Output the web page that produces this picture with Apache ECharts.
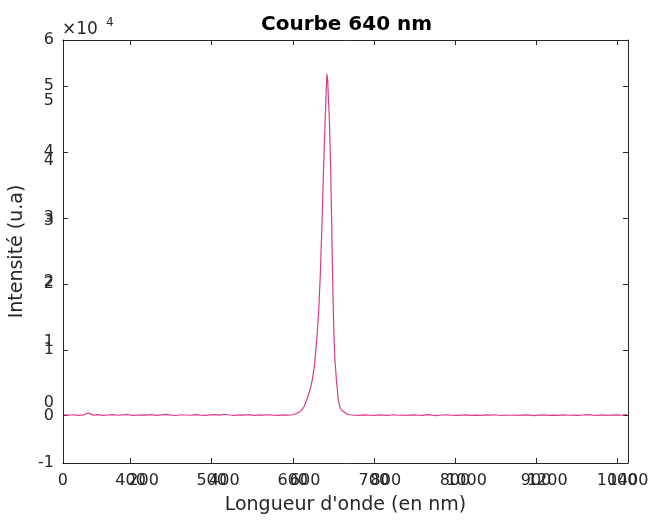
<!DOCTYPE html>
<html lang="fr">
<head>
<meta charset="UTF-8">
<title>Courbe 640 nm</title>
<style>
    * { margin: 0; padding: 0; }
    #chart { width: 655px; height: 523px; background: #fff; }
</style>
<script src="https://cdn.jsdelivr.net/npm/echarts@6/dist/echarts.min.js"></script>
</head>
<body>
<div id="chart"></div>
<script>
// spectre : ligne de base à gauche, pic, ligne de base à droite
var waveLeft = [318,324,330,336,342,348,354,360,366,372,378,384,390,396,402,408,414,420,426,432,438,444,450,456,462,468,474,480,486,492,498,504,510,516,522,528,534,540,546,552,558,564,570,576,582,588,594];
var intLeft = [120,80,150,60,130,420,90,170,40,110,160,70,130,190,50,100,140,80,170,60,120,200,90,30,150,110,70,180,100,50,130,160,80,220,110,60,140,90,170,50,120,80,150,100,60,130,90];

var wavePeak = [600,604,608,611,614,617,620,622,624,626,628,630,632,634,636,638,640,641,642,643,644,645,646,647,648,649,650,651,652,654,656,658,660,662,664,667,670];
var intPeak = [150,300,550,850,1400,2300,3400,4300,5400,6900,9200,12200,16000,21500,29000,37500,45000,48500,51800,51000,48000,45500,41000,36000,29000,22000,16000,11500,8500,5200,2600,1300,900,1200,500,250,150];

var waveRight = [676,682,688,694,700,706,712,718,724,730,736,742,748,754,760,766,772,778,784,790,796,802,808,814,820,826,832,838,844,850,856,862,868,874,880,886,892,898,904,910,916,922,928,934,940,946,952,958,964,970,976,982,988,994,1000,1006,1012];
var intRight = [100,60,140,80,30,120,90,50,150,70,110,40,130,90,60,160,80,20,110,140,70,50,100,130,60,90,40,120,80,150,30,100,70,110,50,140,90,20,80,120,60,100,40,130,70,90,50,110,160,80,60,120,40,90,140,70,200];

// graduations
var xTicksB = [400, 500, 600, 700, 800, 900, 1000];
var yTicksB = [0, 10000, 20000, 30000, 40000, 50000];

var xMinB = 316.4, xMaxB = 1013.5;
var yMinB = -7170, yMaxB = 56980;

var waves = waveLeft.concat(wavePeak, waveRight);
var ints = intLeft.concat(intPeak, intRight);
var points = [];
for (var i = 0; i < waves.length; i++) {
    points.push([waves[i], ints[i]]);
}

var axisColor = '#262626';
var labelStyle = { color: axisColor, fontSize: 16, fontFamily: 'DejaVu Sans' };
var plain = function (v) { return String(v); };
var frameLine = { show: true, onZero: false, lineStyle: { color: axisColor, width: 1 } };

var chart = echarts.init(document.getElementById('chart'));
var option = {
    animation: false,
    title: {
        text: 'Courbe 640 nm',
        left: 256,
        top: 10,
        textStyle: { color: '#000', fontSize: 20, fontWeight: 'bold', fontFamily: 'DejaVu Sans' }
    },
    grid: { left: 61, right: 27, top: 40, bottom: 60 },
    xAxis: [{
        type: 'value',
        min: 0, max: 1400, interval: 200,
        position: 'bottom',
        name: "Longueur d'onde (en nm)",
        nameLocation: 'middle',
        nameGap: 33,
        nameTextStyle: { color: axisColor, fontSize: 19, fontFamily: 'DejaVu Sans' },
        axisLine: frameLine,
        axisTick: { show: false },
        axisLabel: Object.assign({ margin: 10, formatter: plain }, labelStyle),
        splitLine: { show: false }
    }, {
        type: 'value',
        min: xMinB, max: xMaxB,
        position: 'bottom',
        axisLine: { show: false, onZero: false },
        axisTick: { show: true, inside: true, length: 5, customValues: xTicksB, lineStyle: { color: axisColor } },
        axisLabel: Object.assign({ margin: 10, customValues: xTicksB, formatter: plain }, labelStyle),
        splitLine: { show: false }
    }, {
        type: 'value',
        min: xMinB, max: xMaxB,
        position: 'top',
        axisLine: frameLine,
        axisTick: { show: true, inside: true, length: 5, customValues: xTicksB, lineStyle: { color: axisColor } },
        axisLabel: { show: false },
        splitLine: { show: false }
    }],
    yAxis: [{
        type: 'value',
        min: -1, max: 6, interval: 1,
        position: 'left',
        name: 'Intensité (u.a)',
        nameLocation: 'middle',
        nameGap: 27,
        nameTextStyle: { color: axisColor, fontSize: 19, fontFamily: 'DejaVu Sans' },
        axisLine: frameLine,
        axisTick: { show: false },
        axisLabel: Object.assign({ margin: 9, formatter: plain }, labelStyle),
        splitLine: { show: false }
    }, {
        type: 'value',
        min: yMinB, max: yMaxB,
        position: 'left',
        axisLine: { show: false, onZero: false },
        axisTick: { show: true, inside: true, length: 5, customValues: yTicksB, lineStyle: { color: axisColor } },
        axisLabel: Object.assign({
            margin: 9,
            customValues: yTicksB,
            formatter: function (v) { return String(Math.round(v / 10000)); }
        }, labelStyle),
        splitLine: { show: false }
    }, {
        type: 'value',
        min: yMinB, max: yMaxB,
        position: 'right',
        axisLine: frameLine,
        axisTick: { show: true, inside: true, length: 5, customValues: yTicksB, lineStyle: { color: axisColor } },
        axisLabel: { show: false },
        splitLine: { show: false }
    }],
    graphic: [{
        type: 'text', left: 62, top: 21,
        style: { text: '×10', fill: axisColor, fontSize: 17, fontFamily: 'DejaVu Sans' }
    }, {
        type: 'text', left: 106, top: 17,
        style: { text: '4', fill: axisColor, fontSize: 12, fontFamily: 'DejaVu Sans' }
    }],
    series: [{
        type: 'line',
        xAxisIndex: 1,
        yAxisIndex: 1,
        data: points,
        showSymbol: false,
        lineStyle: { color: '#dc3a8c', width: 1.2 },
        z: 3
    }]
};
chart.setOption(option);
</script>
</body>
</html>
